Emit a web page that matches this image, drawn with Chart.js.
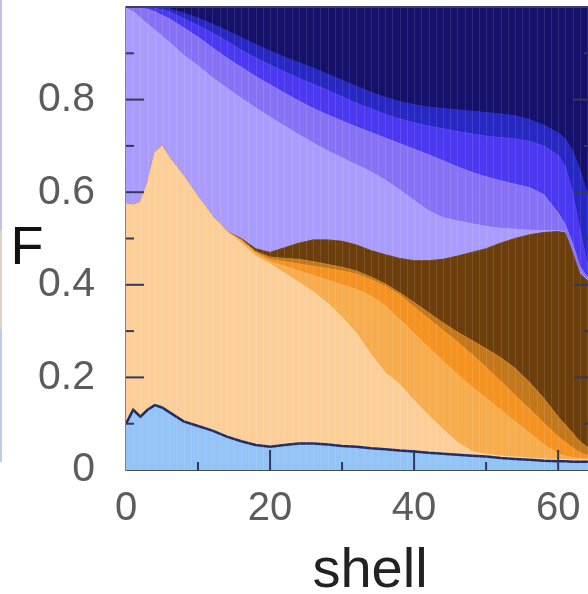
<!DOCTYPE html>
<html>
<head>
<meta charset="utf-8">
<script src="https://cdn.jsdelivr.net/npm/chart.js@4/dist/chart.umd.min.js"></script>
<style>
  html, body { margin: 0; padding: 0; background: #fff; overflow: hidden; }
  #wrap { width: 592px; height: 594px; }
</style>
</head>
<body>
<div id="wrap"><canvas id="myChartArea" width="592" height="594"></canvas></div>
<script>
// shell positions (x) and cumulative tops of each layer (F)
const shells = [0, 1, 2, 3, 4, 5, 6, 8, 10, 12, 14, 16, 18, 20, 22, 24, 26, 28, 30, 32, 34, 36, 38, 40, 42, 44, 46, 48, 50, 52, 54, 56, 58, 60, 61, 62, 63, 64, 65];

const lightBlueTop = [0.10, 0.13, 0.115, 0.13, 0.14, 0.135, 0.125, 0.105, 0.095, 0.085, 0.072, 0.062, 0.054, 0.05, 0.054, 0.057, 0.057, 0.055, 0.052, 0.05, 0.047, 0.045, 0.042, 0.04, 0.037, 0.035, 0.033, 0.031, 0.029, 0.026, 0.024, 0.022, 0.02, 0.019, 0.019, 0.018, 0.018, 0.018, 0.018];
const peachTop = [0.575, 0.572, 0.578, 0.62, 0.685, 0.70, 0.675, 0.635, 0.59, 0.548, 0.515, 0.49, 0.462, 0.445, 0.425, 0.405, 0.385, 0.36, 0.33, 0.295, 0.25, 0.21, 0.185, 0.15, 0.118, 0.088, 0.06, 0.04, 0.034, 0.03, 0.028, 0.026, 0.024, 0.023, 0.023, 0.022, 0.022, 0.022, 0.022];
const lightOrangeTop = [0.575, 0.572, 0.578, 0.62, 0.685, 0.70, 0.675, 0.635, 0.59, 0.548, 0.515, 0.495, 0.468, 0.45, 0.44, 0.43, 0.42, 0.41, 0.4, 0.39, 0.376, 0.355, 0.325, 0.295, 0.265, 0.235, 0.207, 0.18, 0.155, 0.13, 0.105, 0.08, 0.055, 0.035, 0.03, 0.027, 0.025, 0.024, 0.024];
const brightOrangeTop = [0.575, 0.572, 0.578, 0.62, 0.685, 0.70, 0.675, 0.635, 0.59, 0.548, 0.515, 0.497, 0.47, 0.455, 0.45, 0.445, 0.44, 0.435, 0.43, 0.423, 0.411, 0.397, 0.378, 0.352, 0.327, 0.302, 0.277, 0.25, 0.222, 0.192, 0.162, 0.132, 0.102, 0.072, 0.06, 0.048, 0.038, 0.032, 0.03];
const darkOrangeTop = [0.575, 0.572, 0.578, 0.62, 0.685, 0.70, 0.675, 0.635, 0.59, 0.548, 0.515, 0.498, 0.472, 0.46, 0.457, 0.455, 0.45, 0.444, 0.438, 0.43, 0.417, 0.402, 0.383, 0.362, 0.34, 0.318, 0.298, 0.28, 0.262, 0.243, 0.22, 0.19, 0.155, 0.115, 0.098, 0.08, 0.062, 0.05, 0.045];
const brownTop = [0.575, 0.572, 0.578, 0.62, 0.685, 0.70, 0.675, 0.635, 0.59, 0.548, 0.515, 0.5, 0.478, 0.47, 0.48, 0.49, 0.497, 0.497, 0.494, 0.486, 0.474, 0.465, 0.457, 0.452, 0.452, 0.455, 0.462, 0.47, 0.478, 0.49, 0.5, 0.508, 0.513, 0.515, 0.512, 0.47, 0.425, 0.41, 0.405];
const lightPurpleTop = [0.998, 0.99, 0.976, 0.963, 0.95, 0.937, 0.924, 0.896, 0.873, 0.847, 0.825, 0.803, 0.782, 0.762, 0.743, 0.724, 0.706, 0.689, 0.674, 0.659, 0.644, 0.626, 0.605, 0.582, 0.56, 0.545, 0.538, 0.532, 0.526, 0.522, 0.52, 0.518, 0.517, 0.517, 0.514, 0.472, 0.428, 0.412, 0.407];
const medPurpleTop = [1.0, 1.0, 0.998, 0.995, 0.99, 0.982, 0.975, 0.955, 0.935, 0.912, 0.89, 0.87, 0.85, 0.832, 0.814, 0.797, 0.781, 0.767, 0.754, 0.741, 0.729, 0.717, 0.705, 0.693, 0.681, 0.668, 0.655, 0.643, 0.633, 0.625, 0.617, 0.61, 0.595, 0.555, 0.53, 0.49, 0.44, 0.418, 0.41];
const brightBlueTop = [1.0, 1.0, 1.0, 1.0, 0.998, 0.994, 0.99, 0.975, 0.96, 0.944, 0.926, 0.907, 0.89, 0.875, 0.86, 0.846, 0.833, 0.82, 0.806, 0.792, 0.78, 0.768, 0.758, 0.75, 0.743, 0.737, 0.731, 0.726, 0.721, 0.718, 0.715, 0.71, 0.7, 0.68, 0.655, 0.6, 0.52, 0.45, 0.42];
const darkBlueTop = [1.0, 1.0, 1.0, 1.0, 1.0, 1.0, 0.996, 0.987, 0.976, 0.963, 0.949, 0.934, 0.919, 0.905, 0.892, 0.88, 0.868, 0.855, 0.842, 0.829, 0.816, 0.805, 0.796, 0.789, 0.784, 0.781, 0.778, 0.775, 0.772, 0.769, 0.765, 0.757, 0.745, 0.728, 0.715, 0.69, 0.65, 0.6, 0.57];

const xTicks = [0, 20, 40, 60];
const yTicks = [0, 0.2, 0.4, 0.6, 0.8];

const FONT = "'Liberation Sans', Arial, Helvetica, sans-serif";

let pts = (arr) => shells.map((s, i) => ({ x: s, y: arr[i] }));

let layer = (label, arr, color, fill, extra) => Object.assign({
  label: label,
  data: pts(arr),
  fill: fill,
  backgroundColor: color,
  borderColor: color,
  borderWidth: 1,
  pointRadius: 0,
  tension: 0
}, extra || {});

// inward tick marks, stripes, frame and axis titles
const decor = {
  id: 'decor',
  afterDatasetsDraw(chart) {
    const ctx = chart.ctx;
    const a = chart.chartArea;
    const xs = chart.scales.x, ys = chart.scales.y;
    ctx.save();
    // faint vertical stripes, one per shell
    ctx.strokeStyle = 'rgba(255,255,255,0.11)';
    ctx.lineWidth = 1;
    for (let s = 1; s <= 64; s++) {
      const px = Math.round(xs.getPixelForValue(s)) + 0.5;
      ctx.beginPath(); ctx.moveTo(px, a.top); ctx.lineTo(px, a.bottom); ctx.stroke();
    }
    // top frame
    ctx.strokeStyle = '#3b3f66';
    ctx.lineWidth = 2;
    ctx.beginPath(); ctx.moveTo(a.left, a.top); ctx.lineTo(a.right, a.top); ctx.stroke();
    // ticks
    ctx.strokeStyle = '#34385a';
    ctx.lineWidth = 2;
    for (let k = 1; k < 10; k++) {
      const py = ys.getPixelForValue(k / 10);
      const len = k % 2 === 0 ? 18 : 8;
      ctx.beginPath(); ctx.moveTo(a.left, py); ctx.lineTo(a.left + len, py); ctx.stroke();
      ctx.beginPath(); ctx.moveTo(a.right, py); ctx.lineTo(a.right - len, py); ctx.stroke();
    }
    for (let k = 1; k <= 6; k++) {
      const px = xs.getPixelForValue(k * 10);
      const len = k % 2 === 0 ? 20 : 8;
      ctx.beginPath(); ctx.moveTo(px, a.bottom); ctx.lineTo(px, a.bottom - len); ctx.stroke();
    }
    // leftover edge of the neighbouring panel
    ctx.lineWidth = 2;
    ctx.strokeStyle = 'rgba(120,120,190,0.45)';
    ctx.beginPath(); ctx.moveTo(1, 0); ctx.lineTo(1, 230); ctx.stroke();
    ctx.strokeStyle = 'rgba(190,150,120,0.45)';
    ctx.beginPath(); ctx.moveTo(1, 230); ctx.lineTo(1, 330); ctx.stroke();
    ctx.strokeStyle = 'rgba(120,140,200,0.45)';
    ctx.beginPath(); ctx.moveTo(1, 330); ctx.lineTo(1, 462); ctx.stroke();
    // axis titles
    ctx.fillStyle = '#111';
    ctx.font = '54px ' + FONT;
    ctx.textAlign = 'center';
    ctx.textBaseline = 'alphabetic';
    ctx.fillText('F', 27, 264);
    ctx.fillStyle = '#222';
    ctx.font = '56px ' + FONT;
    ctx.fillText('shell', 370, 587);
    ctx.restore();
  }
};

const ctxArea = document.getElementById('myChartArea');

const chartArea = new Chart(ctxArea, {
  type: 'line',
  data: {
    datasets: [
      layer('light blue', lightBlueTop, '#94c4f6', 'origin', { borderColor: '#1f2c68', borderWidth: 2.5 }),
      layer('peach', peachTop, '#fccf98', '-1'),
      layer('light orange', lightOrangeTop, '#f7ac4e', '-1'),
      layer('orange', brightOrangeTop, '#f49322', '-1'),
      layer('dark orange', darkOrangeTop, '#c4781c', '-1'),
      layer('brown', brownTop, '#6b3e0c', '-1'),
      layer('light purple', lightPurpleTop, '#aa9cfc', '-1'),
      layer('purple', medPurpleTop, '#8772f6', '-1'),
      layer('blue', brightBlueTop, '#4a39f0', '-1'),
      layer('dark blue', darkBlueTop, '#2727c2', '-1'),
      layer('navy', darkBlueTop, '#15106a', 'end')
    ]
  },
  options: {
    responsive: false,
    animation: false,
    devicePixelRatio: 1,
    layout: { padding: { top: 7, right: 0, bottom: 0, left: 0 } },
    plugins: {
      legend: { display: false },
      tooltip: { enabled: false }
    },
    scales: {
      x: {
        type: 'linear',
        min: 0,
        max: 64.7,
        afterBuildTicks: (scale) => { scale.ticks = xTicks.map(v => ({ value: v })); },
        afterFit: (scale) => {
          scale.height = 124;
          scale.paddingLeft = 0; scale.paddingRight = 0;
          scale.paddingTop = 0; scale.paddingBottom = 0;
        },
        grid: { display: false, drawTicks: false },
        border: { display: true, color: '#4a4a55', width: 2 },
        ticks: {
          autoSkip: false,
          maxRotation: 0,
          minRotation: 0,
          padding: 15,
          color: '#5c5c5c',
          font: { family: FONT, size: 40 }
        }
      },
      y: {
        min: 0,
        max: 1,
        afterBuildTicks: (scale) => { scale.ticks = yTicks.map(v => ({ value: v })); },
        afterFit: (scale) => {
          scale.width = 126;
          scale.paddingTop = 0; scale.paddingBottom = 0;
          scale.paddingLeft = 0; scale.paddingRight = 0;
        },
        grid: { display: false, drawTicks: false },
        border: { display: true, color: '#8a8278', width: 1.5 },
        ticks: {
          padding: 31,
          color: '#5c5c5c',
          font: { family: FONT, size: 41 }
        }
      }
    }
  },
  plugins: [decor]
});
</script>
</body>
</html>
